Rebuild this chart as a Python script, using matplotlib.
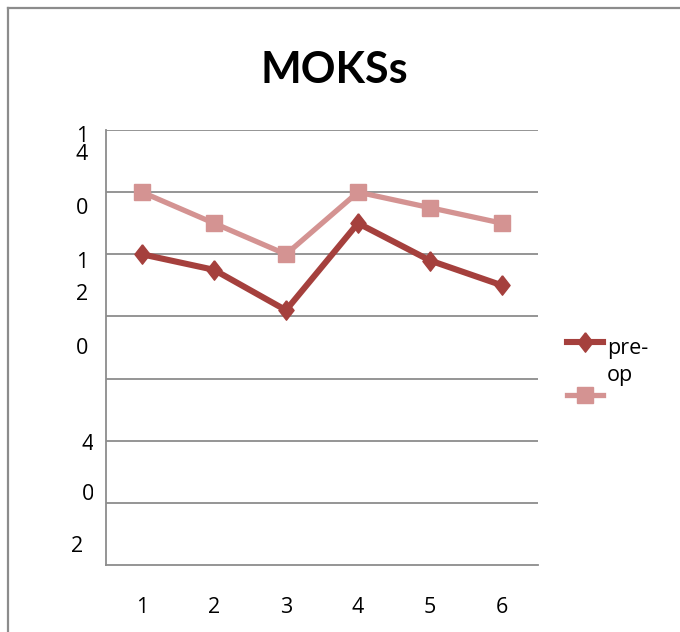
import matplotlib
matplotlib.use("Agg")
import matplotlib.pyplot as plt
from matplotlib.lines import Line2D
from matplotlib.transforms import Bbox, TransformedBbox

# Mean scores per visit
visits = [1, 2, 3, 4, 5, 6]
pre_op = [100, 95, 82, 110, 98, 90]
post_op = [120, 110, 100, 120, 115, 110]
y_gridlines = [20, 40, 60, 80, 100, 120, 140]

# y-axis labels as they wrap in the narrow label column: (char, x px, y px)
y_label_chars = [("1", 82, 136), ("4", 82, 155), ("0", 82, 209),
                 ("1", 82, 262), ("2", 82, 295), ("0", 82, 348),
                 ("4", 88, 444), ("0", 88, 494), ("2", 77, 547)]

PRE_COLOR = "#A5403D"
POST_COLOR = "#D49392"
GRID_COLOR = "#8C8C8C"
FONT = "Open Sans"
TITLE_FONT = "Lato"
DIAMOND = [(0, 1), (0.78, 0), (0, -1), (-0.78, 0), (0, 1)]

PRE_STYLE = dict(color=PRE_COLOR, lw=4.4, marker=DIAMOND, ms=14)
POST_STYLE = dict(color=POST_COLOR, lw=3.8, marker="s", ms=11)
FS = 15.5

W, H = 680, 632
fig = plt.figure(figsize=(W / 100, H / 100), dpi=100)

def px(x, y):
    return x / W, 1 - y / H

# chart frame
fig.add_artist(Line2D([8 / W, 8 / W], [0, 1 - 8 / H], color=GRID_COLOR, lw=1.6,
                      transform=fig.transFigure))
fig.add_artist(Line2D([8 / W, 1], [1 - 8 / H, 1 - 8 / H], color=GRID_COLOR, lw=1.6,
                      transform=fig.transFigure))

ax = fig.add_axes([106 / W, (H - 565) / H, 432 / W, 435 / H])
ax.plot(visits, post_op, solid_joinstyle="miter", zorder=3, **POST_STYLE)
ax.plot(visits, pre_op, solid_joinstyle="miter", zorder=4, **PRE_STYLE)

ax.set_xlim(0.5, 6.5)
ax.set_ylim(0, 140)
for v in y_gridlines:
    ax.axhline(v, color=GRID_COLOR, lw=1.3, zorder=1)
for side in ["top", "right"]:
    ax.spines[side].set_visible(False)
for side in ["left", "bottom"]:
    ax.spines[side].set_color(GRID_COLOR)
    ax.spines[side].set_linewidth(1.3)
ax.set_yticks([])
ax.set_xticks(visits)
ax.set_xticklabels([str(v) for v in visits], fontsize=FS, fontfamily=FONT)
ax.tick_params(axis="x", length=0, pad=23)

# label column is narrower than the widest wrapped glyph
label_clip = TransformedBbox(Bbox.from_extents(0, 0, 93 / W, 1), fig.transFigure)
for ch, x, y in y_label_chars:
    t = fig.text(*px(x, y), ch, fontsize=FS, fontfamily=FONT, ha="center", va="center")
    t.set_clip_box(label_clip)
    t.set_clip_on(True)

fig.text(*px(334, 70), "MOKSs", fontsize=31, fontweight="bold", fontfamily=TITLE_FONT,
         ha="center", va="center")

# legend
lx = [567 / W, 585 / W, 603 / W]
fig.add_artist(Line2D(lx, [1 - 342 / H] * 3, markevery=[1], transform=fig.transFigure,
                      **PRE_STYLE))
fig.add_artist(Line2D(lx, [1 - 395 / H] * 3, markevery=[1], transform=fig.transFigure,
                      **POST_STYLE))
fig.text(*px(607, 348), "pre-", fontsize=FS, fontfamily=FONT, ha="left", va="center")
fig.text(*px(607, 376), "op", fontsize=FS, fontfamily=FONT, ha="left", va="center")

fig.savefig("out.png", dpi=100)
